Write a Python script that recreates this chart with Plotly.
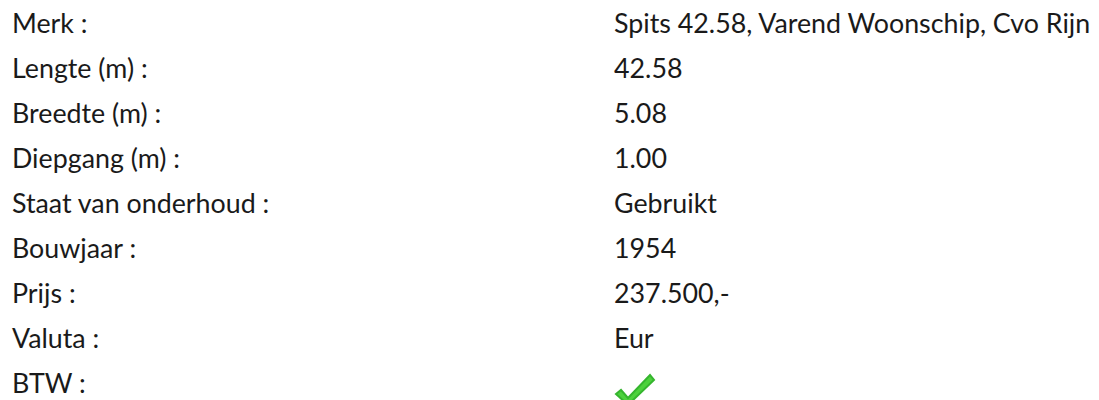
import plotly.graph_objects as go

labels = ["Merk :", "Lengte (m) :", "Breedte (m) :", "Diepgang (m) :",
          "Staat van onderhoud :", "Bouwjaar :", "Prijs :", "Valuta :", "BTW :"]
values = ["Spits 42.58, Varend Woonschip, Cvo Rijn", "42.58", "5.08", "1.00",
          "Gebruikt", "1954", "237.500,-", "Eur", None]  # None -> check mark
btw_included = True

W, H = 1099, 400
row0, row_step = 15, 45
x_label, x_value = 2, 604
font = dict(family="Lato", size=26.8, color="#1a1a1a")

fig = go.Figure()
annotations = []
for i, (lab, val) in enumerate(zip(labels, values)):
    y = row0 + row_step * i
    annotations.append(dict(x=x_label, y=y, text=lab, showarrow=False,
                            xanchor="left", yanchor="middle", font=font,
                            xref="x", yref="y"))
    if val is not None:
        annotations.append(dict(x=x_value, y=y, text=val, showarrow=False,
                                xanchor="left", yanchor="middle", font=font,
                                xref="x", yref="y"))

shapes = []
if btw_included:
    y = 27 + row_step * 8
    cx = 620
    # check mark icon (relative to row position)
    pts = [(-12, -1), (-7, -5), (0, 3), (22, -20), (26, -15), (0, 10)]
    path = "M " + " L ".join(f"{cx+dx},{y+dy}" for dx, dy in pts) + " Z"
    shapes.append(dict(type="path", path=path, xref="x", yref="y",
                       fillcolor="#4cd23c", line=dict(color="#35b52e", width=2)))

fig.update_layout(
    width=W, height=H, margin=dict(l=0, r=0, t=0, b=0),
    paper_bgcolor="white", plot_bgcolor="white",
    xaxis=dict(range=[0, W], visible=False, fixedrange=True),
    yaxis=dict(range=[H, 0], visible=False, fixedrange=True),
    annotations=annotations, shapes=shapes, showlegend=False,
)
fig.write_html("out.html")
